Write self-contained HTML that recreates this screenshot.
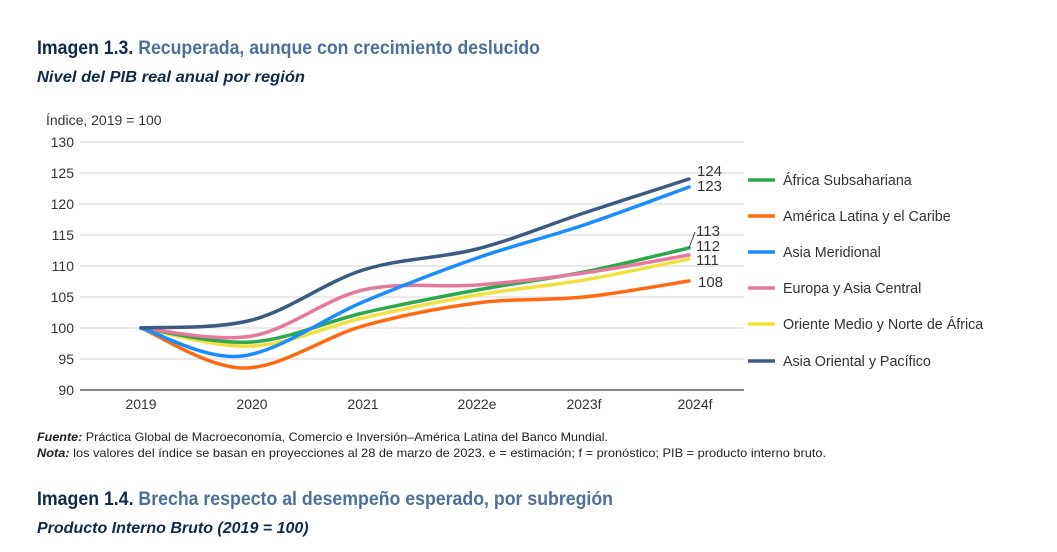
<!DOCTYPE html>
<html><head><meta charset="utf-8"><style>
body{margin:0;background:#fff;width:1057px;height:547px;overflow:hidden;font-family:"Liberation Sans",sans-serif}
</style></head><body>
<svg width="1057" height="547" xmlns="http://www.w3.org/2000/svg" font-family="Liberation Sans, sans-serif">
<text x="37" y="54" font-size="19" font-weight="bold" fill="#0f2a4a" textLength="503" lengthAdjust="spacingAndGlyphs">Imagen 1.3. <tspan fill="#4d6f9c">Recuperada, aunque con crecimiento deslucido</tspan></text>
<text x="37" y="82" font-size="16" font-weight="bold" font-style="italic" fill="#0f2a4a" textLength="268" lengthAdjust="spacingAndGlyphs">Nivel del PIB real anual por región</text>
<text x="46" y="125" font-size="14" fill="#333">Índice, 2019 = 100</text>
<g stroke="#e4e4e4" stroke-width="1.5">
<line x1="80" x2="744" y1="142" y2="142"/><line x1="80" x2="744" y1="173" y2="173"/><line x1="80" x2="744" y1="204" y2="204"/><line x1="80" x2="744" y1="235" y2="235"/><line x1="80" x2="744" y1="266" y2="266"/><line x1="80" x2="744" y1="297" y2="297"/><line x1="80" x2="744" y1="328" y2="328"/><line x1="80" x2="744" y1="359" y2="359"/>
</g>
<line x1="80" x2="744" y1="390" y2="390" stroke="#888" stroke-width="2"/>
<g font-size="14" fill="#333" text-anchor="end">
<text x="74" y="147">130</text><text x="74" y="178">125</text><text x="74" y="209">120</text><text x="74" y="240">115</text><text x="74" y="271">110</text><text x="74" y="302">105</text><text x="74" y="333">100</text><text x="74" y="364">95</text><text x="74" y="395">90</text>
</g>
<g font-size="14" fill="#333" text-anchor="middle">
<text x="141" y="409">2019</text><text x="252" y="409">2020</text><text x="363" y="409">2021</text><text x="477" y="409">2022e</text><text x="584" y="409">2023f</text><text x="695" y="409">2024f</text>
</g>
<g id="lines" fill="none" stroke-width="3.5" stroke-linecap="round"></g>
<line x1="689" y1="248" x2="695" y2="232" stroke="#333" stroke-width="1"/>
<g font-size="15" fill="#333">
<text x="697" y="176">124</text><text x="697" y="191">123</text>
<text x="696" y="236">113</text><text x="696" y="251">112</text><text x="696" y="265">111</text><text x="698" y="287">108</text>
</g>
<g stroke-width="3.5">
<line x1="748" x2="775" y1="180" y2="180" stroke="#2ea84f"/>
<line x1="748" x2="775" y1="216" y2="216" stroke="#ff6a10"/>
<line x1="748" x2="775" y1="252" y2="252" stroke="#1a8cff"/>
<line x1="748" x2="775" y1="288" y2="288" stroke="#e67a9e"/>
<line x1="748" x2="775" y1="324" y2="324" stroke="#f0e040"/>
<line x1="748" x2="775" y1="361" y2="361" stroke="#3d5a80"/>
</g>
<g font-size="14.3" fill="#333">
<text x="783" y="185">África Subsahariana</text>
<text x="783" y="221">América Latina y el Caribe</text>
<text x="783" y="257">Asia Meridional</text>
<text x="783" y="293">Europa y Asia Central</text>
<text x="783" y="329">Oriente Medio y Norte de África</text>
<text x="783" y="366">Asia Oriental y Pacífico</text>
</g>
<text x="37" y="441" font-size="12" fill="#222" textLength="571" lengthAdjust="spacingAndGlyphs"><tspan font-weight="bold" font-style="italic">Fuente:</tspan> Práctica Global de Macroeconomía, Comercio e Inversión–América Latina del Banco Mundial.</text>
<text x="37" y="457" font-size="12" fill="#222" textLength="789" lengthAdjust="spacingAndGlyphs"><tspan font-weight="bold" font-style="italic">Nota:</tspan> los valores del índice se basan en proyecciones al 28 de marzo de 2023. e = estimación; f = pronóstico; PIB = producto interno bruto.</text>
<text x="37" y="505" font-size="19" font-weight="bold" fill="#0f2a4a" textLength="576" lengthAdjust="spacingAndGlyphs">Imagen 1.4. <tspan fill="#4d6f9c">Brecha respecto al desempeño esperado, por subregión</tspan></text>
<text x="37" y="533" font-size="16" font-weight="bold" font-style="italic" fill="#0f2a4a">Producto Interno Bruto (2019 = 100)</text>
</svg>
<script>
var S=[
["#f0e040",[[141,328],[252,346],[363,318],[477,295],[584,280],[689,259]]],
["#ff6a10",[[141,328],[245,368],[363,326],[477,303],[584,297],[689,281]]],
["#2ea84f",[[141,328],[252,342],[363,313],[477,290],[584,272],[689,248]]],
["#e67a9e",[[141,328],[252,336],[363,290],[477,285],[584,273],[689,255]]],
["#1a8cff",[[141,328],[242,356],[363,302],[477,258],[584,225],[689,187]]],
["#3d5a80",[[141,328],[252,320],[363,270],[477,249],[584,213],[689,179]]]];
var g=document.getElementById("lines");
S.forEach(function(s){var p=s[1],d="M"+p[0][0]+","+p[0][1];
for(var i=0;i<p.length-1;i++){var a=p[i-1]||p[i],b=p[i],c=p[i+1],e=p[i+2]||c;
d+=" C"+(b[0]+(c[0]-a[0])/6)+","+(b[1]+(c[1]-a[1])/6)+" "+(c[0]-(e[0]-b[0])/6)+","+(c[1]-(e[1]-b[1])/6)+" "+c[0]+","+c[1];}
var el=document.createElementNS("http://www.w3.org/2000/svg","path");el.setAttribute("d",d);el.setAttribute("stroke",s[0]);g.appendChild(el);});
</script>
</body></html>
